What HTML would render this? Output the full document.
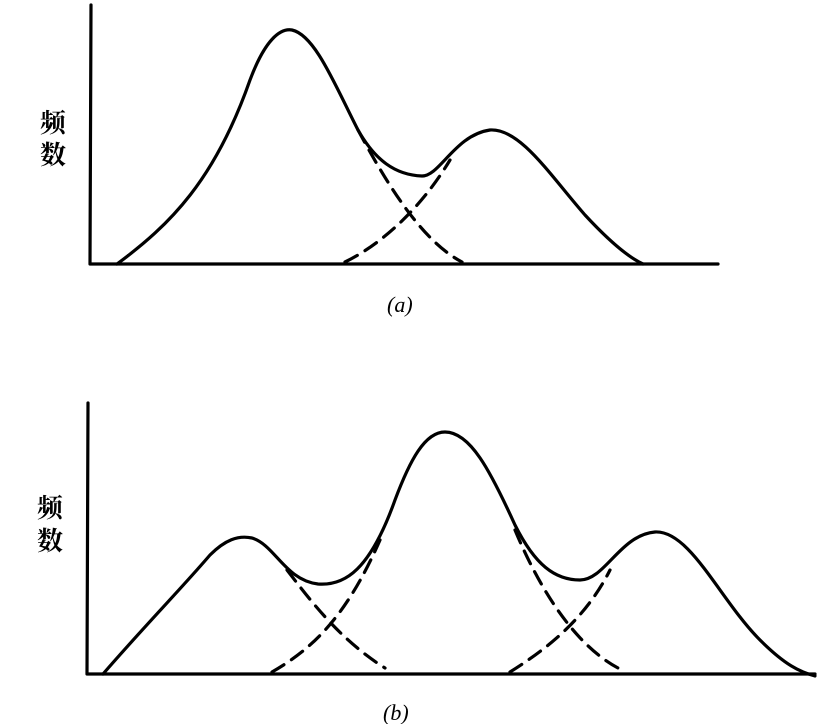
<!DOCTYPE html>
<html><head><meta charset="utf-8"><style>
body{margin:0;background:#fff}
svg{display:block}
</style></head><body>
<svg width="824" height="724" viewBox="0 0 824 724" xmlns="http://www.w3.org/2000/svg">
<g fill="none" stroke="#000" stroke-width="3.2" stroke-linecap="round" stroke-linejoin="round">
<path d="M91 5 L90 264 L718 264"/>
<path d="M117 264 C170 225 215 180 250 80 C265 40 280 28 292 30 C315 35 335 85 358 130 C375 160 395 175 422 176 C440 176 455 135 490 130 C520 128 550 175 585 215 C610 242 630 258 643 264"/>
<path d="M358 130 C385 180 420 240 462 262" stroke-dasharray="14 9"/>
<path d="M345 262 C380 245 420 210 450 160" stroke-dasharray="14 9"/>
<path d="M88 403 L87 674 L815 674"/>
<path d="M103 674 C150 620 180 590 210 555 C225 540 238 535 252 538 C275 545 285 580 318 584 C345 586 370 570 395 500 C410 460 425 432 445 432 C470 432 490 470 515 525 C535 565 555 580 580 580 C605 580 620 535 655 532 C690 530 720 600 760 640 C785 665 800 672 815 676"/>
<path d="M287 570 C310 600 340 640 385 668" stroke-dasharray="14 9"/>
<path d="M272 672 C310 650 345 620 380 540" stroke-dasharray="14 9"/>
<path d="M515 530 C540 590 575 645 618 668" stroke-dasharray="14 9"/>
<path d="M510 672 C545 650 585 620 610 570" stroke-dasharray="14 9"/>
</g>
<g font-family="Liberation Serif, 'Noto Serif CJK SC', serif" font-weight="bold" font-size="26" fill="#000">
<text x="40" y="132">频</text><text x="40" y="164">数</text>
<text x="37" y="517">频</text><text x="37" y="550">数</text>
</g>
<g font-family="Liberation Serif, serif" font-style="italic" font-size="22" fill="#000">
<text x="387" y="312">(a)</text>
<text x="383" y="720">(b)</text>
</g>
</svg>
</body></html>
